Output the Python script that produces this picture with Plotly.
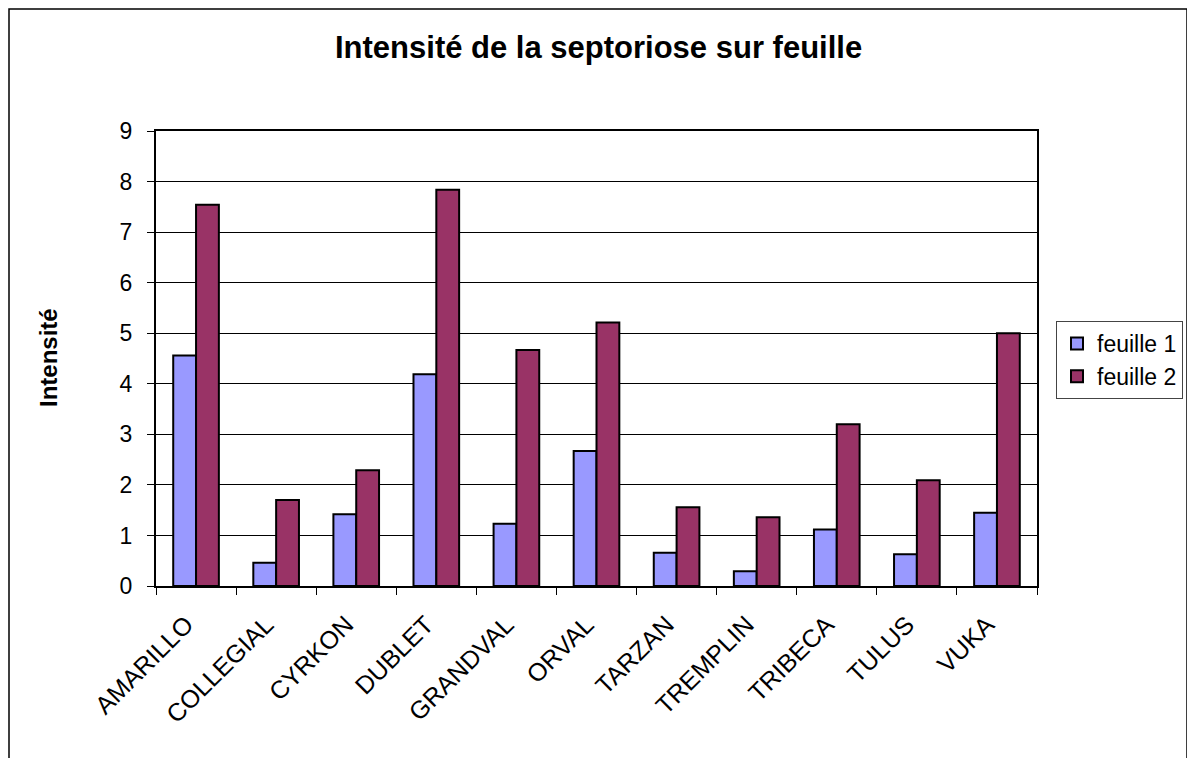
import plotly.graph_objects as go

categories = ["AMARILLO", "COLLEGIAL", "CYRKON", "DUBLET", "GRANDVAL", "ORVAL",
              "TARZAN", "TREMPLIN", "TRIBECA", "TULUS", "VUKA"]
feuille1 = [4.56, 0.46, 1.42, 4.19, 1.23, 2.67, 0.66, 0.29, 1.12, 0.63, 1.45]
feuille2 = [7.54, 1.70, 2.29, 7.84, 4.67, 5.21, 1.56, 1.36, 3.20, 2.09, 5.00]
yticks = [0, 1, 2, 3, 4, 5, 6, 7, 8, 9]

FONT = "Liberation Sans, Arial, sans-serif"

# plot area in figure pixels (page has an 8px body margin)
L, R, T, B = 148, 1029, 123, 578
PW, PH = R - L, B - T


def px(x):
    return (x - L) / PW


def py(y):
    return (B - y) / PH


fig = go.Figure()
fig.add_trace(go.Bar(name="feuille 1", x=categories, y=feuille1,
                     marker=dict(color="#9999FF", line=dict(color="black", width=2))))
fig.add_trace(go.Bar(name="feuille 2", x=categories, y=feuille2,
                     marker=dict(color="#993366", line=dict(color="black", width=2))))

fig.update_layout(
    width=1195, height=758,
    margin=dict(l=L, r=1195 - R, t=T, b=758 - B, autoexpand=False),
    paper_bgcolor="white", plot_bgcolor="white",
    barmode="group", bargap=0.43, bargroupgap=0,
    font=dict(family=FONT, size=22, color="black"),
    showlegend=True,
    legend=dict(x=px(1048), y=py(313), xanchor="left", yanchor="top",
                bordercolor="#444444", borderwidth=1,
                font=dict(size=23, family=FONT),
                itemsizing="constant", tracegroupgap=0,
                bgcolor="white"),
    xaxis=dict(type="category", showline=True, linecolor="black", linewidth=2,
               mirror=True, ticks="outside", ticklen=7, tickcolor="black",
               tickson="boundaries", tickangle=-45, showgrid=False,
               ticklabelstandoff=12, ticklabelshift=-10,
               tickfont=dict(size=25, family=FONT)),
    yaxis=dict(range=[0, 9], tickvals=yticks, showline=True, linecolor="black",
               linewidth=2, mirror=True, ticks="outside", ticklen=7,
               tickcolor="black", showgrid=True, gridcolor="black", gridwidth=1,
               ticklabelstandoff=10, zeroline=False,
               tickfont=dict(size=23, family=FONT)),
    shapes=[dict(type="rect", xref="paper", yref="paper",
                 x0=px(1), x1=px(1179),
                 y0=-1.0, y1=py(1),
                 line=dict(color="black", width=1.5), fillcolor="rgba(0,0,0,0)",
                 layer="below")],
    annotations=[
        dict(text="<b>Intensité de la septoriose sur feuille</b>", xref="paper",
             yref="paper", x=px(590), y=py(40),
             xanchor="center", yanchor="middle", showarrow=False,
             font=dict(size=31, family=FONT)),
        dict(text="<b>Intensité</b>", xref="paper", yref="paper",
             x=px(40), y=py(350), textangle=-90,
             xanchor="center", yanchor="middle", showarrow=False,
             font=dict(size=24, family=FONT)),
    ],
)

fig.write_html("out.html")
